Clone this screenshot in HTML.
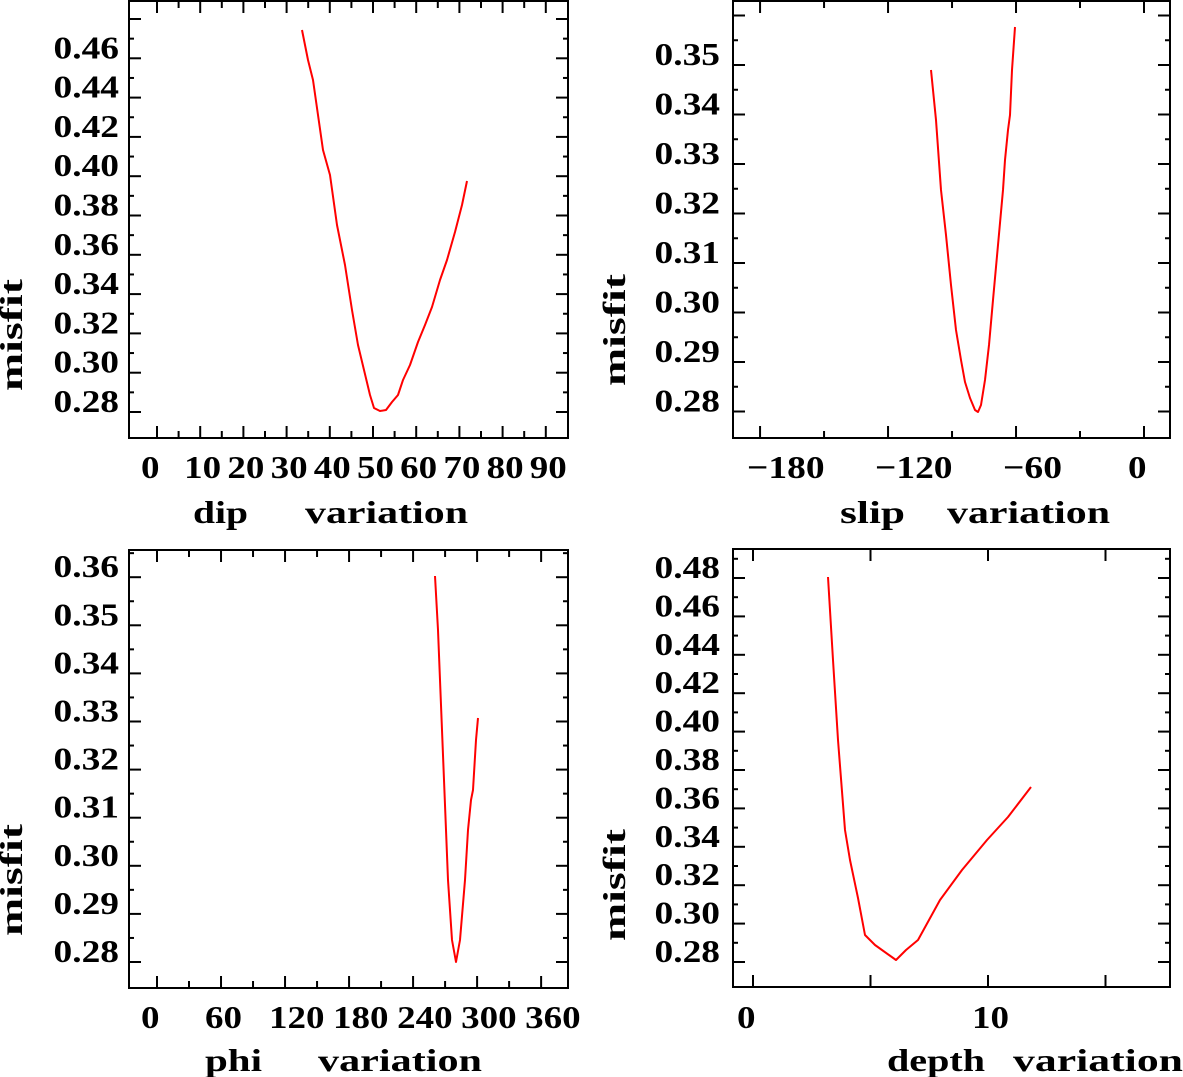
<!DOCTYPE html>
<html><head><meta charset="utf-8">
<style>
html,body{margin:0;padding:0;background:#fff;}
svg{display:block;}
text{font-family:"Liberation Serif",serif;font-weight:bold;fill:#000;}
</style></head>
<body>
<svg id="s" width="1183" height="1077" xmlns="http://www.w3.org/2000/svg"></svg>
<script>
const S=document.getElementById('s');
const NS='http://www.w3.org/2000/svg';
function el(t,a,txt){const e=document.createElementNS(NS,t);for(const k in a)e.setAttribute(k,a[k]);if(txt!==undefined)e.textContent=txt;S.appendChild(e);return e;}
function line(x1,y1,x2,y2,w){el('line',{x1,y1,x2,y2,stroke:'#000','stroke-width':w||2});}
function txt(x,y,s,len,size,anchor,extra){const a={x,y,'font-size':size||32,textLength:len,lengthAdjust:'spacingAndGlyphs'};if(anchor)a['text-anchor']=anchor;if(extra)Object.assign(a,extra);el('text',a,s);}
function wlen(s){let w=0;for(const c of s){w+= c=='.'?10: c=='\u2212'?22:18.5;}return w;}

function panel(p){
  const {L,T,R,B}=p;
  el('rect',{x:L,y:T,width:R-L,height:B-T,fill:'none',stroke:'#000','stroke-width':2});
  for(let u=p.xmin;u<=p.xmax+1e-9;u+=p.xminor){
    const x=p.fx(u); if(x<L+2||x>R-2)continue;
    const maj=Math.abs(u/p.xmajor-Math.round(u/p.xmajor))<1e-6;
    const l=maj?12:7;
    line(x,B,x,B-l);line(x,T,x,T+l);
  }
  for(const u of p.xlabels){
    const s=(u<0?'\u2212'+(-u):''+u);
    const x=p.fx(u)-(u<0?13:16);
    txt(x,p.xly,s,wlen(s));
  }
  for(let v=p.ymin;v<=p.ymax+1e-9;v+=p.yminor){
    const y=p.fy(v); if(y<T+2||y>B-2)continue;
    const maj=Math.abs(v/p.ymajor-Math.round(v/p.ymajor))<1e-6;
    const l=maj?12:5;
    line(L,y,L+l,y);line(R,y,R-l,y);
  }
  for(const v of p.ylabels){
    const s=v.toFixed(2);
    txt(p.ylx-wlen(s),p.fy(v),s,wlen(s));
  }
  el('polyline',{points:p.pts.map(q=>q.join(',')).join(' '),fill:'none',stroke:'#ff0000','stroke-width':2,'stroke-linejoin':'round'});
}

panel({L:129,T:1,R:568,B:438,fx:u=>157+4.32*u,xmin:0,xmax:100,xminor:5,xmajor:10,xlabels:[0,10,20,30,40,50,60,70,80,90],xly:478,
 fy:v=>412-(v-0.28)*1965,ymin:0.28,ymax:0.50,yminor:0.01,ymajor:0.02,ylabels:[0.28,0.30,0.32,0.34,0.36,0.38,0.40,0.42,0.44,0.46],ylx:119,
 pts:[[302,30],[308,60],[313,80],[318,115],[323,150],[330,175],[337,225],[345,265],[352,310],[358,345],[364,370],[370,395],[374,408],[380,411],[386,410],[392,402],[398,395],[403,380],[410,365],[418,342],[425,325],[432,307],[440,280],[447,260],[455,232],[462,205],[467,181]]});

panel({L:733,T:1,R:1170,B:438,fx:u=>1144+2.133*u,xmin:-180,xmax:30,xminor:30,xmajor:60,xlabels:[-180,-120,-60,0],xly:478,
 fy:v=>411.5-(v-0.28)*4950,ymin:0.28,ymax:0.37,yminor:0.005,ymajor:0.01,ylabels:[0.28,0.29,0.30,0.31,0.32,0.33,0.34,0.35],ylx:720,
 pts:[[931,70],[936,120],[941,190],[946,235],[951,285],[956,330],[961,360],[965,382],[970,398],[975,410],[978,412],[981,405],[985,380],[989,345],[993,300],[998,245],[1003,190],[1005,160],[1008,130],[1010,115],[1012,70],[1015,27]]});

panel({L:129,T:550,R:568,B:988,fx:u=>157+1.067*u,xmin:0,xmax:390,xminor:30,xmajor:60,xlabels:[0,60,120,180,240,300,360],xly:1028,
 fy:v=>962-(v-0.28)*4810,ymin:0.28,ymax:0.37,yminor:0.005,ymajor:0.01,ylabels:[0.28,0.29,0.30,0.31,0.32,0.33,0.34,0.35,0.36],ylx:119,
 pts:[[435,576],[438,630],[440,680],[444,780],[448,880],[452,940],[456,962],[460,940],[465,880],[468,830],[471,800],[473,790],[476,740],[478,718]]});

panel({L:733,T:549,R:1170,B:987,fx:u=>753+23.5*u,xmin:0,xmax:20,xminor:5,xmajor:5,xlabels:[0,10],xly:1028,
 fy:v=>962-(v-0.28)*1920,ymin:0.28,ymax:0.50,yminor:0.01,ymajor:0.02,ylabels:[0.28,0.30,0.32,0.34,0.36,0.38,0.40,0.42,0.44,0.46,0.48],ylx:720,
 pts:[[828,577],[833,660],[838,740],[845,830],[850,860],[858,898],[865,935],[875,945],[896,960],[906,950],[918,940],[940,900],[962,870],[987,840],[1008,817],[1031,787]]});

function ytitle(x,cy){el('text',{x:0,y:0,'font-size':32,textLength:112,lengthAdjust:'spacingAndGlyphs','text-anchor':'middle',transform:`translate(${x},${cy}) rotate(-90)`},'misfit');}
ytitle(22,335);ytitle(625,330);ytitle(22,880);ytitle(625,885);
txt(193,523,'dip',55);txt(305,523,'variation',163);
txt(840,523,'slip',65);txt(947,523,'variation',163);
txt(205,1071,'phi',57);txt(318,1071,'variation',164);
txt(887,1071,'depth',98);txt(1013,1071,'variation',170);
</script>
</body></html>
